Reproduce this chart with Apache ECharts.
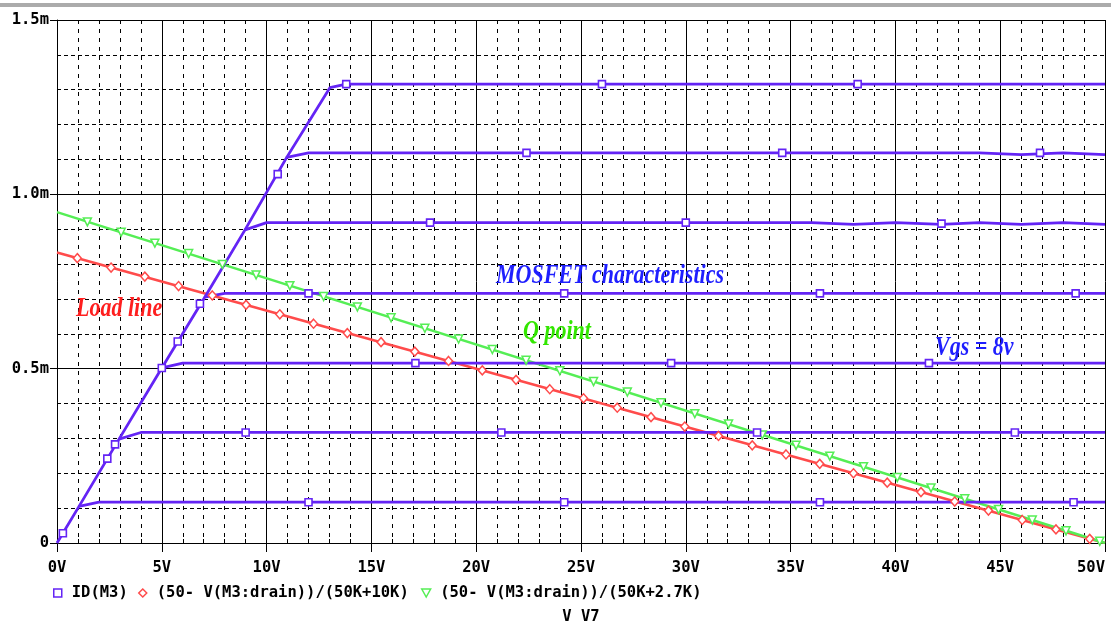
<!DOCTYPE html>
<html><head><meta charset="utf-8">
<script src="https://cdn.jsdelivr.net/npm/echarts@6/dist/echarts.min.js"></script>
<style>html,body{margin:0;padding:0;background:#fff}#c{width:1111px;height:630px}</style>
</head><body><div id="c"></div>
<script>
// ---- data (V in volts, I in mA) ----
const xTickLabels = ['0V','5V','10V','15V','20V','25V','30V','35V','40V','45V','50V'];
const yTickLabels = ['0','0.5m','1.0m','1.5m'];
const legendNames = ['ID(M3)', '(50- V(M3:drain))/(50K+10K)', '(50- V(M3:drain))/(50K+2.7K)'];

// each ID trace drawn from the previous knee on the shared triode line (curves overlap there)
const id1Line = [[0,0],[1.05,0.105],[2.0,0.117],[50,0.117]];
const id1Marks = [[0.28,0.028],[12.0,0.117],[24.2,0.117],[36.4,0.117],[48.5,0.117]];
const id2Line = [[1.05,0.105],[2.96,0.298],[4.0,0.317],[50,0.317]];
const id2Marks = [[2.40,0.242],[2.77,0.283],[9.0,0.317],[21.2,0.317],[33.4,0.317],[45.7,0.317]];
const id3Line = [[2.96,0.298],[5.0,0.502],[6.0,0.516],[50,0.516]];
const id3Marks = [[5.0,0.502],[17.1,0.516],[29.3,0.516],[41.6,0.516]];
const id4Line = [[5.0,0.502],[7.05,0.705],[8.0,0.716],[50,0.716]];
const id4Marks = [[5.76,0.578],[6.82,0.686],[12.0,0.716],[24.2,0.716],[36.4,0.716],[48.6,0.716]];
const id5Line = [[7.05,0.705],[8.97,0.898],[10.0,0.919],[36,0.919],[36,0.914],[38,0.914],[38,0.919],[40,0.919],[40,0.914],[42.2,0.914],[42.2,0.919],[44,0.919],[44,0.914],[46,0.914],[46,0.919],[48,0.919],[48,0.914],[50,0.914]];
const id5Marks = [[17.8,0.919],[30.0,0.919],[42.2,0.916]];
const id6Line = [[8.97,0.898],[10.96,1.106],[12.0,1.119],[44,1.119],[44,1.114],[46,1.114],[46,1.119],[48,1.119],[48,1.114],[50,1.114]];
const id6Marks = [[10.53,1.058],[22.4,1.119],[34.6,1.119],[46.9,1.119]];
const id7Line = [[10.96,1.106],[13.02,1.306],[13.8,1.316],[50,1.316]];
const id7Marks = [[13.8,1.316],[26.0,1.316],[38.2,1.316]];

const redLine = [[0,0.833],[50,0]];
const redMarks = [[0.97,0.817],[2.58,0.790],[4.19,0.764],[5.80,0.737],[7.41,0.710],[9.02,0.683],[10.63,0.656],[12.24,0.629],[13.85,0.602],[15.46,0.576],[17.07,0.549],[18.68,0.522],[20.29,0.495],[21.90,0.468],[23.51,0.441],[25.12,0.415],[26.73,0.388],[28.34,0.361],[29.95,0.334],[31.56,0.307],[33.17,0.280],[34.78,0.254],[36.39,0.227],[38.00,0.200],[39.61,0.173],[41.22,0.146],[42.83,0.119],[44.44,0.093],[46.05,0.066],[47.66,0.039],[49.27,0.012]];
const greenLine = [[0,0.949],[50,0]];
const greenMarks = [[1.45,0.921],[3.06,0.891],[4.67,0.860],[6.28,0.830],[7.89,0.799],[9.50,0.769],[11.11,0.738],[12.72,0.707],[14.33,0.677],[15.94,0.646],[17.55,0.616],[19.16,0.585],[20.77,0.555],[22.38,0.524],[23.99,0.494],[25.60,0.463],[27.21,0.433],[28.82,0.402],[30.43,0.371],[32.04,0.341],[33.65,0.310],[35.26,0.280],[36.87,0.249],[38.48,0.219],[40.09,0.188],[41.70,0.158],[43.31,0.127],[44.92,0.096],[46.53,0.066],[48.14,0.035],[49.75,0.005]];

// ---- styles ----
const ID_C = '#6424f5', RED_C = '#ff4b4b', GREEN_C = '#55ee55';
const MONO = '"DejaVu Sans Mono", monospace';
const SERIF = '"Liberation Serif", "Times New Roman", serif';

const series = [];
[[id1Line,id1Marks],[id2Line,id2Marks],[id3Line,id3Marks],[id4Line,id4Marks],[id5Line,id5Marks],[id6Line,id6Marks],[id7Line,id7Marks]].forEach(([l,m])=>{
  series.push({name:legendNames[0], type:'line', data:l, symbol:'none', lineStyle:{color:ID_C,width:2.8}, itemStyle:{color:ID_C}, z:3});
  series.push({name:legendNames[0], type:'scatter', data:m, symbol:'rect', symbolSize:7, itemStyle:{color:'#fff',borderColor:ID_C,borderWidth:1.6,opacity:1}, z:6});
});
series.push({name:legendNames[1], type:'line', data:redLine, symbol:'none', lineStyle:{color:RED_C,width:2.5}, itemStyle:{color:RED_C}, z:2});
series.push({name:legendNames[1], type:'scatter', data:redMarks, symbol:'diamond', symbolSize:[8,9], itemStyle:{color:'#fff',borderColor:RED_C,borderWidth:1.5,opacity:1}, z:4});
series.push({name:legendNames[2], type:'line', data:greenLine, symbol:'none', lineStyle:{color:GREEN_C,width:2.5}, itemStyle:{color:GREEN_C}, z:2});
series.push({name:legendNames[2], type:'scatter', data:greenMarks, symbol:'triangle', symbolRotate:180, symbolSize:[8,8], itemStyle:{color:'#fff',borderColor:GREEN_C,borderWidth:1.5,opacity:1}, z:4});

const legTxt = {fontFamily:MONO, fontSize:15.5, fontWeight:'bold', color:'#000'};
function leg(left, name, icon, col){
  return {left:left, top:585, padding:0, itemWidth:18, itemHeight:8, selectedMode:false, textStyle:legTxt,
    data:[{name:name, icon:icon, itemStyle:{color:'#fff', borderColor:col, borderWidth:1.5}}]};
}

const chart = echarts.init(document.getElementById('c'));
chart.setOption({
  animation:false,
  backgroundColor:'#fff',
  grid:{left:57, right:6, top:20, bottom:86},
  legend:[
    leg(53, legendNames[0], 'path://M0,0L10,0L10,10L0,10Z', ID_C),
    leg(138, legendNames[1], 'path://M5,0L10,5L5,10L0,5Z', RED_C),
    leg(421, legendNames[2], 'path://M0,0L10,0L5,9Z', GREEN_C)
  ],
  xAxis:[{
    type:'value', min:0, max:50, interval:5,
    axisLine:{lineStyle:{color:'#000',width:1}},
    axisTick:{length:9, lineStyle:{color:'#000'}},
    axisLabel:{formatter:(v)=>xTickLabels[Math.round(v/5)], fontFamily:MONO, fontSize:15.5, fontWeight:'bold', color:'#000', margin:17, alignMaxLabel:'right'},
    splitLine:{show:true, lineStyle:{color:'#000',width:1}},
    minorTick:{show:false, splitNumber:5},
    minorSplitLine:{show:true, lineStyle:{color:'#000',width:1,type:[4,5]}},
    name:'V V7', nameLocation:'middle', nameGap:66,
    nameTextStyle:{fontFamily:MONO, fontSize:15.5, fontWeight:'bold', color:'#000'}
  },{
    type:'value', min:0, max:50, interval:1, position:'bottom',
    axisLine:{show:false}, axisTick:{show:true, inside:true, length:4, lineStyle:{color:'#000'}},
    axisLabel:{show:false}, splitLine:{show:false}
  }],
  yAxis:{
    type:'value', min:0, max:1.5, interval:0.5,
    axisLine:{show:true, lineStyle:{color:'#000',width:1}},
    axisTick:{show:true, length:7, lineStyle:{color:'#000'}},
    axisLabel:{formatter:(v)=>yTickLabels[Math.round(v/0.5)], fontFamily:MONO, fontSize:15.5, fontWeight:'bold', color:'#000', margin:8},
    splitLine:{show:true, lineStyle:{color:'#000',width:1}},
    minorTick:{show:false, splitNumber:5},
    minorSplitLine:{show:true, lineStyle:{color:'#000',width:1,type:[4,3]}}
  },
  graphic:[
    {type:'rect', shape:{x:0,y:3,width:1111,height:4}, style:{fill:'#ababab'}, silent:true},
    {type:'text', x:496, y:276, scaleY:1.2, z:10, style:{text:'MOSFET characteristics', fill:'#1f1fff', font:'italic bold 22px '+SERIF, verticalAlign:'middle'}},
    {type:'text', x:76, y:309, scaleY:1.2, z:10, style:{text:'Load line', fill:'#ff1f1f', font:'italic bold 22px '+SERIF, verticalAlign:'middle'}},
    {type:'text', x:523, y:332, scaleY:1.2, z:10, style:{text:'Q point', fill:'#33e600', font:'italic bold 22px '+SERIF, verticalAlign:'middle'}},
    {type:'text', x:935, y:348, scaleY:1.2, z:10, style:{text:'Vgs = 8v', fill:'#1f1fff', font:'italic bold 22px '+SERIF, verticalAlign:'middle'}}
  ],
  series:series
});
</script></body></html>
